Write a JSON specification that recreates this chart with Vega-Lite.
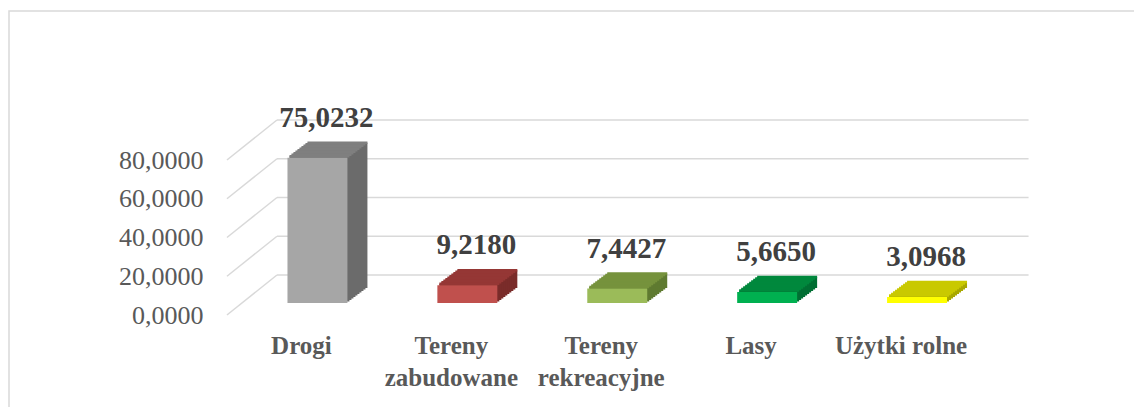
{
 "$schema": "https://vega.github.io/schema/vega-lite/v6.json",
 "width": 1125, "height": 396,
 "autosize": {"type": "none"},
 "padding": {"left": 9, "top": 11, "right": 0, "bottom": 0},
 "config": {
  "view": {"stroke": "#d9d9d9", "strokeWidth": 1.5, "strokeDash": [1125, 1521, 396, 10]},
  "locale": {"number": {"decimal": ",", "thousands": " ", "grouping": [3], "currency": ["", " zł"]}},
  "font": "Liberation Serif"
 },
 "datasets": {
  "bars": [
   {"cat": "Drogi", "v": 75.0232},
   {"cat": "Tereny zabudowane", "v": 9.218},
   {"cat": "Tereny rekreacyjne", "v": 7.4427},
   {"cat": "Lasy", "v": 5.665},
   {"cat": "Użytki rolne", "v": 3.0968}
  ],
  "grid": [{"v": 0}, {"v": 20}, {"v": 40}, {"v": 60}, {"v": 80}]
 },
 "data": {"name": "bars"},
 "encoding": {
  "x": {"field": "cat", "type": "nominal", "sort": null,
   "scale": {"domain": ["Drogi", "Tereny zabudowane", "Tereny rekreacyjne", "Lasy", "Użytki rolne"], "range": [233.5, 983], "paddingInner": 0.6, "paddingOuter": 0.3},
   "axis": {"title": null, "orient": "bottom", "offset": -104, "domain": false, "ticks": false, "tickSize": 0, "labelPadding": 30, "labelOffset": -16, "labelAngle": 0, "labelBaseline": "top", "labelFont": "Liberation Serif", "labelFontSize": 25, "labelFontWeight": "bold", "labelColor": "#595959", "labelLineHeight": 32, "labelLimit": 0, "labelOverlap": false, "grid": false,
    "labelExpr": "datum.label == 'Użytki rolne' ? datum.label : split(datum.label, ' ')"}},
  "y": {"field": "v", "type": "quantitative",
   "scale": {"domain": [0, 80], "range": [292, 137], "nice": false, "zero": true},
   "axis": {"title": null, "orient": "left", "offset": -196, "domain": false, "ticks": false, "tickSize": 0, "labelPadding": 2, "labelOffset": 12, "values": [0, 20, 40, 60, 80], "format": ".4f", "labelFont": "Liberation Serif", "labelFontSize": 26, "labelColor": "#595959", "grid": false}}
 },
 "resolve": {"scale": {"color": "independent"}},
 "layer": [
  {"data": {"name": "grid"}, "mark": {"type": "rule", "color": "#d9d9d9", "strokeWidth": 1.5, "xOffset": -40.5, "x2Offset": 111.5, "yOffset": -28},
   "encoding": {"x": {"datum": "Drogi", "type": "nominal"}, "x2": {"datum": "Użytki rolne"}}},
  {"data": {"name": "grid"}, "mark": {"type": "rule", "color": "#d9d9d9", "strokeWidth": 1.5, "xOffset": -90.5, "x2Offset": -40.5, "yOffset": 12, "y2Offset": -28},
   "encoding": {"x": {"datum": "Drogi", "type": "nominal"}, "x2": {"datum": "Drogi"}, "y2": {"field": "v"}}},

  {"mark": {"type": "bar", "xOffset": 20, "yOffset": -15, "y2Offset": -15}, "encoding": {"color": {"field": "cat", "type": "nominal", "scale": {"domain": ["Drogi", "Tereny zabudowane", "Tereny rekreacyjne", "Lasy", "Użytki rolne"], "range": ["#6b6b6b", "#7a2c2a", "#5f7a30", "#006f33", "#a8a800"]}, "legend": null}}},
  {"mark": {"type": "bar", "xOffset": 18, "yOffset": -13.5, "y2Offset": -13.5}, "encoding": {"color": {"field": "cat", "type": "nominal", "scale": {"domain": ["Drogi", "Tereny zabudowane", "Tereny rekreacyjne", "Lasy", "Użytki rolne"], "range": ["#6b6b6b", "#7a2c2a", "#5f7a30", "#006f33", "#a8a800"]}, "legend": null}}},
  {"mark": {"type": "bar", "xOffset": 16, "yOffset": -12, "y2Offset": -12}, "encoding": {"color": {"field": "cat", "type": "nominal", "scale": {"domain": ["Drogi", "Tereny zabudowane", "Tereny rekreacyjne", "Lasy", "Użytki rolne"], "range": ["#6b6b6b", "#7a2c2a", "#5f7a30", "#006f33", "#a8a800"]}, "legend": null}}},
  {"mark": {"type": "bar", "xOffset": 14, "yOffset": -10.5, "y2Offset": -10.5}, "encoding": {"color": {"field": "cat", "type": "nominal", "scale": {"domain": ["Drogi", "Tereny zabudowane", "Tereny rekreacyjne", "Lasy", "Użytki rolne"], "range": ["#6b6b6b", "#7a2c2a", "#5f7a30", "#006f33", "#a8a800"]}, "legend": null}}},
  {"mark": {"type": "bar", "xOffset": 12, "yOffset": -9, "y2Offset": -9}, "encoding": {"color": {"field": "cat", "type": "nominal", "scale": {"domain": ["Drogi", "Tereny zabudowane", "Tereny rekreacyjne", "Lasy", "Użytki rolne"], "range": ["#6b6b6b", "#7a2c2a", "#5f7a30", "#006f33", "#a8a800"]}, "legend": null}}},
  {"mark": {"type": "bar", "xOffset": 10, "yOffset": -7.5, "y2Offset": -7.5}, "encoding": {"color": {"field": "cat", "type": "nominal", "scale": {"domain": ["Drogi", "Tereny zabudowane", "Tereny rekreacyjne", "Lasy", "Użytki rolne"], "range": ["#6b6b6b", "#7a2c2a", "#5f7a30", "#006f33", "#a8a800"]}, "legend": null}}},
  {"mark": {"type": "bar", "xOffset": 8, "yOffset": -6, "y2Offset": -6}, "encoding": {"color": {"field": "cat", "type": "nominal", "scale": {"domain": ["Drogi", "Tereny zabudowane", "Tereny rekreacyjne", "Lasy", "Użytki rolne"], "range": ["#6b6b6b", "#7a2c2a", "#5f7a30", "#006f33", "#a8a800"]}, "legend": null}}},
  {"mark": {"type": "bar", "xOffset": 6, "yOffset": -4.5, "y2Offset": -4.5}, "encoding": {"color": {"field": "cat", "type": "nominal", "scale": {"domain": ["Drogi", "Tereny zabudowane", "Tereny rekreacyjne", "Lasy", "Użytki rolne"], "range": ["#6b6b6b", "#7a2c2a", "#5f7a30", "#006f33", "#a8a800"]}, "legend": null}}},
  {"mark": {"type": "bar", "xOffset": 4, "yOffset": -3, "y2Offset": -3}, "encoding": {"color": {"field": "cat", "type": "nominal", "scale": {"domain": ["Drogi", "Tereny zabudowane", "Tereny rekreacyjne", "Lasy", "Użytki rolne"], "range": ["#6b6b6b", "#7a2c2a", "#5f7a30", "#006f33", "#a8a800"]}, "legend": null}}},
  {"mark": {"type": "bar", "xOffset": 2, "yOffset": -1.5, "y2Offset": -1.5}, "encoding": {"color": {"field": "cat", "type": "nominal", "scale": {"domain": ["Drogi", "Tereny zabudowane", "Tereny rekreacyjne", "Lasy", "Użytki rolne"], "range": ["#6b6b6b", "#7a2c2a", "#5f7a30", "#006f33", "#a8a800"]}, "legend": null}}},

  {"mark": {"type": "bar", "xOffset": 20, "yOffset": -16.25, "y2Offset": -13.75}, "encoding": {"y2": {"field": "v"}, "color": {"field": "cat", "type": "nominal", "scale": {"domain": ["Drogi", "Tereny zabudowane", "Tereny rekreacyjne", "Lasy", "Użytki rolne"], "range": ["#7f7f7f", "#953735", "#76923c", "#00883d", "#c9c900"]}, "legend": null}}},
  {"mark": {"type": "bar", "xOffset": 18, "yOffset": -14.75, "y2Offset": -12.25}, "encoding": {"y2": {"field": "v"}, "color": {"field": "cat", "type": "nominal", "scale": {"domain": ["Drogi", "Tereny zabudowane", "Tereny rekreacyjne", "Lasy", "Użytki rolne"], "range": ["#7f7f7f", "#953735", "#76923c", "#00883d", "#c9c900"]}, "legend": null}}},
  {"mark": {"type": "bar", "xOffset": 16, "yOffset": -13.25, "y2Offset": -10.75}, "encoding": {"y2": {"field": "v"}, "color": {"field": "cat", "type": "nominal", "scale": {"domain": ["Drogi", "Tereny zabudowane", "Tereny rekreacyjne", "Lasy", "Użytki rolne"], "range": ["#7f7f7f", "#953735", "#76923c", "#00883d", "#c9c900"]}, "legend": null}}},
  {"mark": {"type": "bar", "xOffset": 14, "yOffset": -11.75, "y2Offset": -9.25}, "encoding": {"y2": {"field": "v"}, "color": {"field": "cat", "type": "nominal", "scale": {"domain": ["Drogi", "Tereny zabudowane", "Tereny rekreacyjne", "Lasy", "Użytki rolne"], "range": ["#7f7f7f", "#953735", "#76923c", "#00883d", "#c9c900"]}, "legend": null}}},
  {"mark": {"type": "bar", "xOffset": 12, "yOffset": -10.25, "y2Offset": -7.75}, "encoding": {"y2": {"field": "v"}, "color": {"field": "cat", "type": "nominal", "scale": {"domain": ["Drogi", "Tereny zabudowane", "Tereny rekreacyjne", "Lasy", "Użytki rolne"], "range": ["#7f7f7f", "#953735", "#76923c", "#00883d", "#c9c900"]}, "legend": null}}},
  {"mark": {"type": "bar", "xOffset": 10, "yOffset": -8.75, "y2Offset": -6.25}, "encoding": {"y2": {"field": "v"}, "color": {"field": "cat", "type": "nominal", "scale": {"domain": ["Drogi", "Tereny zabudowane", "Tereny rekreacyjne", "Lasy", "Użytki rolne"], "range": ["#7f7f7f", "#953735", "#76923c", "#00883d", "#c9c900"]}, "legend": null}}},
  {"mark": {"type": "bar", "xOffset": 8, "yOffset": -7.25, "y2Offset": -4.75}, "encoding": {"y2": {"field": "v"}, "color": {"field": "cat", "type": "nominal", "scale": {"domain": ["Drogi", "Tereny zabudowane", "Tereny rekreacyjne", "Lasy", "Użytki rolne"], "range": ["#7f7f7f", "#953735", "#76923c", "#00883d", "#c9c900"]}, "legend": null}}},
  {"mark": {"type": "bar", "xOffset": 6, "yOffset": -5.75, "y2Offset": -3.25}, "encoding": {"y2": {"field": "v"}, "color": {"field": "cat", "type": "nominal", "scale": {"domain": ["Drogi", "Tereny zabudowane", "Tereny rekreacyjne", "Lasy", "Użytki rolne"], "range": ["#7f7f7f", "#953735", "#76923c", "#00883d", "#c9c900"]}, "legend": null}}},
  {"mark": {"type": "bar", "xOffset": 4, "yOffset": -4.25, "y2Offset": -1.75}, "encoding": {"y2": {"field": "v"}, "color": {"field": "cat", "type": "nominal", "scale": {"domain": ["Drogi", "Tereny zabudowane", "Tereny rekreacyjne", "Lasy", "Użytki rolne"], "range": ["#7f7f7f", "#953735", "#76923c", "#00883d", "#c9c900"]}, "legend": null}}},
  {"mark": {"type": "bar", "xOffset": 2, "yOffset": -2.75, "y2Offset": -0.25}, "encoding": {"y2": {"field": "v"}, "color": {"field": "cat", "type": "nominal", "scale": {"domain": ["Drogi", "Tereny zabudowane", "Tereny rekreacyjne", "Lasy", "Użytki rolne"], "range": ["#7f7f7f", "#953735", "#76923c", "#00883d", "#c9c900"]}, "legend": null}}},

  {"mark": {"type": "bar"}, "encoding": {"color": {"field": "cat", "type": "nominal", "scale": {"domain": ["Drogi", "Tereny zabudowane", "Tereny rekreacyjne", "Lasy", "Użytki rolne"], "range": ["#a6a6a6", "#c0504d", "#9bbb59", "#00b050", "#ffff00"]}, "legend": null}}},
  {"mark": {"type": "text", "font": "Liberation Serif", "fontSize": 29, "fontWeight": "bold", "color": "#404040", "xOffset": 9, "yOffset": -31, "baseline": "alphabetic", "align": "center"},
   "encoding": {"text": {"field": "v", "type": "quantitative", "format": ".4f"}}}
 ]
}
